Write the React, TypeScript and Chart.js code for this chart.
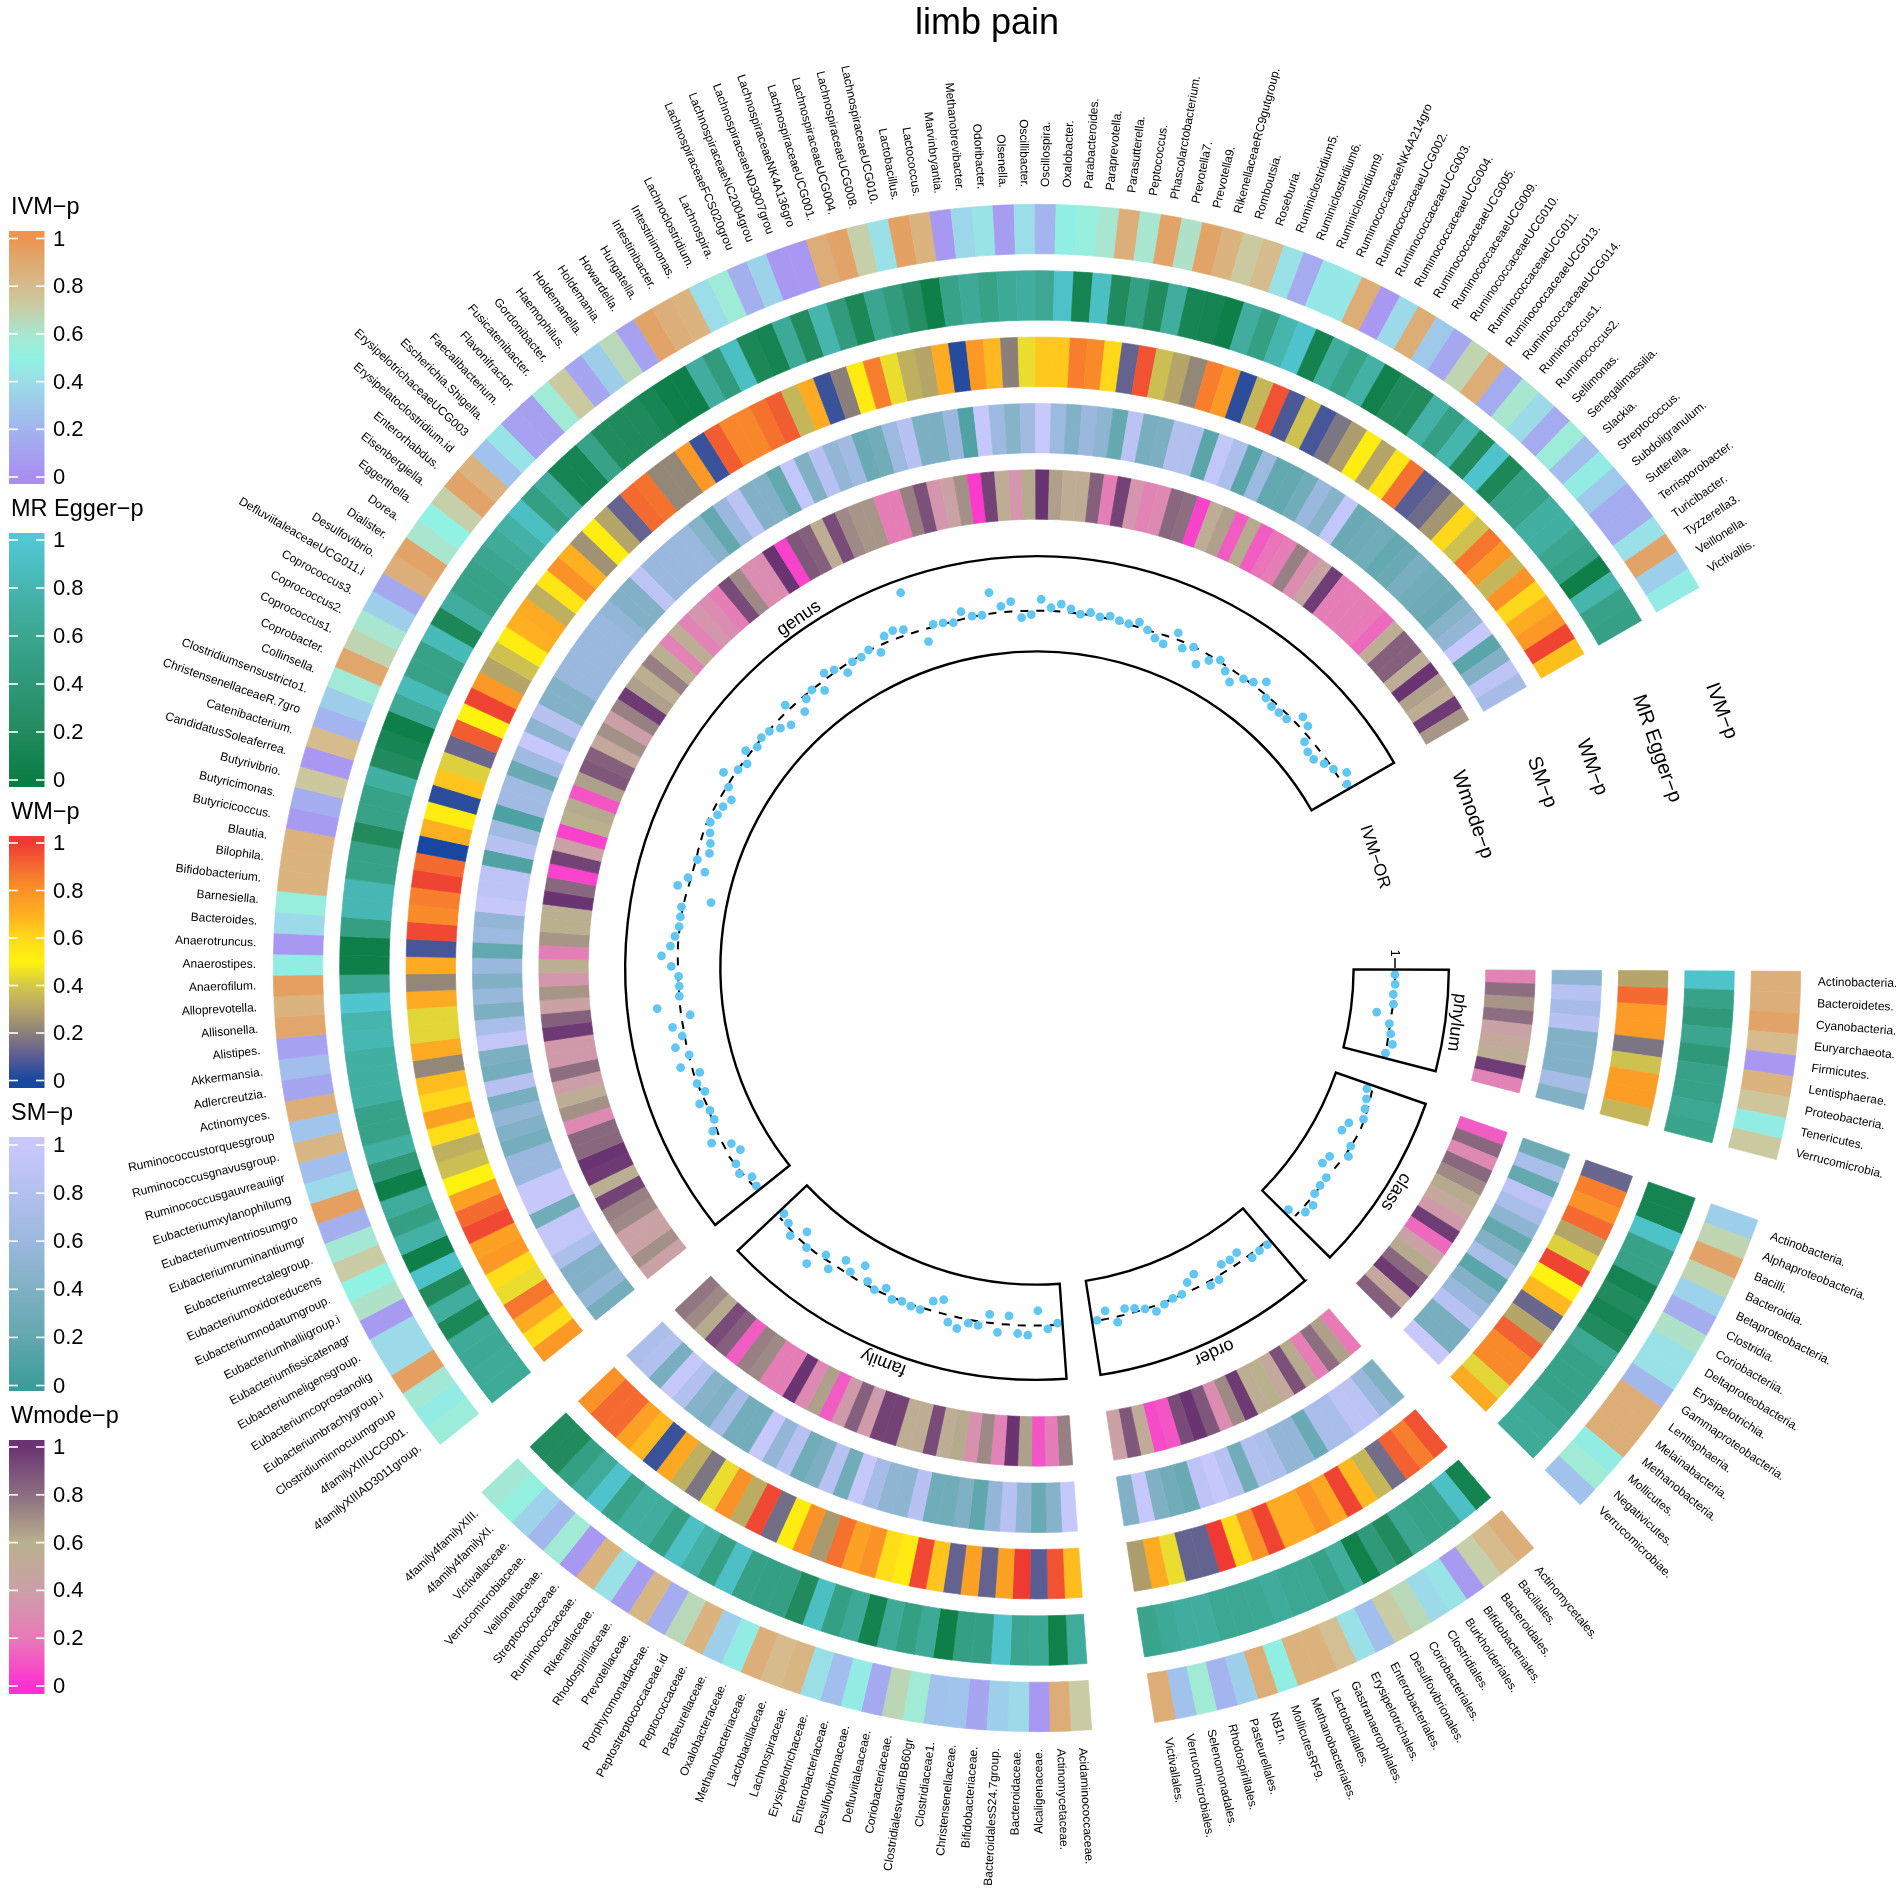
import { useEffect, useRef } from 'react';
import { Chart, registerables } from 'chart.js';

Chart.register(...registerables);

const FONT = '"Liberation Sans", Arial, sans-serif';

const phylumLabels = ['Actinobacteria.', 'Bacteroidetes.', 'Cyanobacteria.', 'Euryarchaeota.', 'Firmicutes.', 'Lentisphaerae.', 'Proteobacteria.', 'Tenericutes.', 'Verrucomicrobia.'];
const classLabels = ['Actinobacteria.', 'Alphaproteobacteria.', 'Bacilli.', 'Bacteroidia.', 'Betaproteobacteria.', 'Clostridia.', 'Coriobacteriia.', 'Deltaproteobacteria.', 'Erysipelotrichia.', 'Gammaproteobacteria.', 'Lentisphaeria.', 'Melainabacteria.', 'Methanobacteria.', 'Mollicutes.', 'Negativicutes.', 'Verrucomicrobiae.'];
const orderLabels = ['Actinomycetales.', 'Bacillales.', 'Bacteroidales.', 'Bifidobacteriales.', 'Burkholderiales.', 'Clostridiales.', 'Coriobacteriales.', 'Desulfovibrionales.', 'Enterobacteriales.', 'Erysipelotrichales.', 'Gastranaerophilales.', 'Lactobacillales.', 'Methanobacteriales.', 'MollicutesRF9.', 'NB1n.', 'Pasteurellales.', 'Rhodospirillales.', 'Selenomonadales.', 'Verrucomicrobiales.', 'Victivallales.'];
const familyLabels = ['Acidaminococcaceae.', 'Actinomycetaceae.', 'Alcaligenaceae.', 'Bacteroidaceae.', 'BacteroidalesS24.7group.', 'Bifidobacteriaceae.', 'Christensenellaceae.', 'Clostridiaceae1.', 'ClostridialesvadinBB60gr', 'Coriobacteriaceae.', 'Defluviitaleaceae.', 'Desulfovibrionaceae.', 'Enterobacteriaceae.', 'Erysipelotrichaceae.', 'Lachnospiraceae.', 'Lactobacillaceae.', 'Methanobacteriaceae.', 'Oxalobacteraceae.', 'Pasteurellaceae.', 'Peptococcaceae.', 'Peptostreptococcaceae.id', 'Porphyromonadaceae.', 'Prevotellaceae.', 'Rhodospirillaceae.', 'Rikenellaceae.', 'Ruminococcaceae.', 'Streptococcaceae.', 'Veillonellaceae.', 'Verrucomicrobiaceae.', 'Victivallaceae.', '4family4familyXI.', '4family4familyXIII.'];
const genusLabels = ['4familyXIIIAD3011group.', '4familyXIIIUCG001.', 'Clostridiuminnocuumgroup', 'Eubacteriumbrachygroup.i', 'Eubacteriumcoprostanolig', 'Eubacteriumeligensgroup.', 'Eubacteriumfissicatenagr', 'Eubacteriumhalliigroup.i', 'Eubacteriumnodatumgroup.', 'Eubacteriumoxidoreducens', 'Eubacteriumrectalegroup.', 'Eubacteriumruminantiumgr', 'Eubacteriumventriosumgro', 'Eubacteriumxylanophilumg', 'Ruminococcusgauvreauiigr', 'Ruminococcusgnavusgroup.', 'Ruminococcustorquesgroup', 'Actinomyces.', 'Adlercreutzia.', 'Akkermansia.', 'Alistipes.', 'Allisonella.', 'Alloprevotella.', 'Anaerofilum.', 'Anaerostipes.', 'Anaerotruncus.', 'Bacteroides.', 'Barnesiella.', 'Bifidobacterium.', 'Bilophila.', 'Blautia.', 'Butyricicoccus.', 'Butyricimonas.', 'Butyrivibrio.', 'CandidatusSoleaferrea.', 'Catenibacterium.', 'ChristensenellaceaeR.7gro', 'Clostridiumsensustricto1.', 'Collinsella.', 'Coprobacter.', 'Coprococcus1.', 'Coprococcus2.', 'Coprococcus3.', 'DefluviitaleaceaeUCG011.i', 'Desulfovibrio.', 'Dialister.', 'Dorea.', 'Eggerthella.', 'Eisenbergiella.', 'Enterorhabdus.', 'Erysipelatoclostridium.id', 'ErysipelotrichaceaeUCG003', 'Escherichia.Shigella.', 'Faecalibacterium.', 'Flavonifractor.', 'Fusicatenibacter.', 'Gordonibacter.', 'Haemophilus.', 'Holdemanella.', 'Holdemania.', 'Howardella.', 'Hungatella.', 'Intestinibacter.', 'Intestinimonas.', 'Lachnoclostridium.', 'Lachnospira.', 'LachnospiraceaeFCS020grou', 'LachnospiraceaeNC2004grou', 'LachnospiraceaeND3007grou', 'LachnospiraceaeNK4A136gro', 'LachnospiraceaeUCG001.', 'LachnospiraceaeUCG004.', 'LachnospiraceaeUCG008.', 'LachnospiraceaeUCG010.', 'Lactobacillus.', 'Lactococcus.', 'Marvinbryantia.', 'Methanobrevibacter.', 'Odoribacter.', 'Olsenella.', 'Oscillibacter.', 'Oscillospira.', 'Oxalobacter.', 'Parabacteroides.', 'Paraprevotella.', 'Parasutterella.', 'Peptococcus.', 'Phascolarctobacterium.', 'Prevotella7.', 'Prevotella9.', 'RikenellaceaeRC9gutgroup.', 'Romboutsia.', 'Roseburia.', 'Ruminiclostridium5.', 'Ruminiclostridium6.', 'Ruminiclostridium9.', 'RuminococcaceaeNK4A214gro', 'RuminococcaceaeUCG002.', 'RuminococcaceaeUCG003.', 'RuminococcaceaeUCG004.', 'RuminococcaceaeUCG005.', 'RuminococcaceaeUCG009.', 'RuminococcaceaeUCG010.', 'RuminococcaceaeUCG011.', 'RuminococcaceaeUCG013.', 'RuminococcaceaeUCG014.', 'Ruminococcus1.', 'Ruminococcus2.', 'Sellimonas.', 'Senegalimassilia.', 'Slackia.', 'Streptococcus.', 'Subdoligranulum.', 'Sutterella.', 'Terrisporobacter.', 'Turicibacter.', 'Tyzzerella3.', 'Veillonella.', 'Victivallis.'];

// p values, clockwise inside each section
const ivmPhylum = [.87, .87, .93, .8, .05, .85, .75, .47, .73];
const ivmClass = [.33, .68, .93, .68, .35, .17, .62, .42, .42, .22, .88, .88, .88, .47, .57, .27];
const ivmOrder = [.87, .8, .7, .07, .43, .38, .66, .72, .25, .42, .78, .86, .86, .48, .88, .33, .2, .57, .27, .88];
const ivmFamily = [.72, .88, .05, .38, .33, .12, .28, .27, .57, .67, .14, .47, .25, .41, .83, .8, .87, .47, .33, .85, .66, .17, .83, .08, .42, .85, .05, .57, .22, .35, .52, .58];
const ivmGenus = [
  .55, .47, .58, .95, .38, .38, .07, .62, .5, .72,
  .58, .18, .95, .38, .25, .83, .28, .87, .12, .25,
  .1, .92, .85, .95, .47, .05, .38, .53, .85, .85,
  .86, .07, .17, .74, .05, .8, .2, .32, .57, .92,
  .68, .6, .33, .13, .87, .93, .6, .5, .7, .93,
  .85, .27, .43, .1, .09, .57, .73, .12, .32, .66,
  .1, .93, .87, .85, .4, .56, .18, .35, .05, .05,
  .88, .93, .7, .42, .94, .85, .05, .37, .43, .08,
  .4, .2, .48, .53, .6, .87, .6, .93, .62, .93,
  .85, .73, .8, .42, .15, .45, .45, .88, .05, .38,
  .88, .3, .13, .68, .88, .15, .6, .38, .15, .55,
  .25, .47, .3, .16, .16, .42, .93, .33, .47,
];

const mrPhylum = [.95, .55, .42, .6, .4, .55, .55, .62, .58];
const mrClass = [.1, .1, .93, .55, .55, .1, .2, .1, .2, .62, .55, .55, .55, .6, .66, .66];
const mrOrder = [.08, .92, .55, .55, .6, .2, .42, .05, .7, .55, .62, .62, .68, .62, .62, .62, .7, .7, .65, .58];
const mrFamily = [.68, .05, .62, .6, .95, .5, .5, .03, .65, .5, .65, .08, .65, .5, .9, .2, .5, .5, .52, .92, .5, .75, .92, .5, .7, .7, .55, .95, .68, .5, .2, .2];
const mrGenus = [
  .66, .66, .64, .66, .15, .7, .2, .93, .03, .75,
  .5, .68, .03, .4, .72, .55, .55, .72, .72, .72,
  .82, .8, .97, .6, .03, .03, .5, .82, .82, .55,
  .55, .2, .55, .55, .72, .2, .12, .03, .65, .85,
  .55, .55, .85, .15, .7, .55, .55, .6, .66, .75,
  .9, .5, .68, .1, .1, .55, .2, .18, .18, .12,
  .03, .03, .7, .45, .9, .15, .1, .65, .2, .8,
  .45, .15, .6, .45, .25, .03, .55, .65, .55, .65,
  .7, .62, .93, .1, .9, .2, .5, .2, .7, .12,
  .1, .03, .7, .5, .8, .95, .08, .7, .55, .75,
  .05, .2, .2, .75, .5, .8, .2, .95, .15, .55,
  .55, .72, .72, .6, .55, .03, .8, .55, .52,
];

const wmPhylum = [.3, .9, .77, .77, .17, .38, .76, .76, .35];
const wmClass = [.13, .85, .8, .9, .3, .42, .98, .5, .68, .13, .3, .92, .82, .82, .43, .72];
const wmOrder = [.95, .85, .92, .15, .35, .68, .98, .73, .8, .72, .72, .98, .8, .6, 1, .12, .12, .45, .72, .28];
const wmFamily = [.67, .95, .1, 1, .75, .12, .75, .12, .65, .97, .53, .58, .8, .75, .88, .27, .8, .52, .15, .97, .32, .8, .45, .17, .33, .73, .05, .68, .75, .9, .9, .8];
const wmGenus = [
  .78, .58, .72, .87, .45, .58, .78, .75, .97, .9,
  .75, .5, .37, .33, .58, .75, .6, .67, .22, .72,
  .43, .43, .72, .22, .72, .07, .97, .82, .85, .98,
  .9, 0, .7, .52, .03, .65, .42, .13, .93, .5,
  .98, .78, .3, .38, .52, .7, .72, .33, .55, .8,
  .7, .25, .52, .3, .12, .9, .88, .22, .22, .78,
  .05, .93, .83, .83, .88, .93, .35, .72, .05, .2,
  .53, .85, .45, .33, .3, .72, .02, .78, .68, .2,
  .45, .64, .64, .85, .82, .6, .12, .95, .37, .3,
  .22, .85, .78, .03, .35, .95, .08, .38, .07, .17,
  .28, .52, .3, .55, .88, .1, .14, .26, .6, .38,
  .87, .78, .35, .8, .6, .72, .78, .98, .66,
];

const smPhylum = [.5, .85, .7, .85, .42, .42, .42, .7, .42];
const smClass = [.28, .72, .22, .9, .72, .5, .2, .42, .72, .15, .42, .6, .85, .35, .35, 1];
const smOrder = [.4, .6, .88, .9, .72, .72, .25, .55, .55, .75, .8, .3, .85, .98, .9, .25, .3, .4, .98, .42];
const smFamily = [.98, .45, .25, .5, .85, .55, .18, .4, .3, .3, .85, .5, .52, .7, .98, .3, .85, .38, .3, .85, .55, .98, .32, .32, .7, .4, .45, .8, .98, .35, .8, .75];
const smGenus = [
  .33, .55, .42, .42, .75, .95, .95, .3, .98, .98,
  .6, .6, .33, .42, .55, .35, .85, .33, .38, .95,
  .72, .38, .58, .4, .6, .2, .62, .55, .98, .9,
  .9, .1, .85, .65, .08, .65, .65, .25, .65, .98,
  .5, .85, .42, .42, .6, .6, .6, .6, .6, .55,
  .42, .42, .9, .6, .6, .6, .6, .45, .2, .6,
  .88, .42, .42, .2, .95, .4, .85, .55, .65, .25,
  .3, .62, .85, .38, .38, .6, .1, .98, .62, .45,
  .65, 1, .62, .42, .6, .5, .22, .88, .35, .38,
  .8, .78, .15, .95, .75, .15, .62, .2, .22, .3,
  .6, .45, .95, .25, .28, .3, .22, .25, .35, .3,
  .28, .25, .45, .55, .98, .15, .42, .9, .7,
];

const wmodePhylum = [.25, .8, .68, .8, .42, .5, .55, .97, .25];
const wmodeClass = [.12, .82, .28, .82, .72, .62, .5, .37, .97, .15, .42, .62, .82, .98, .5, .85];
const wmodeOrder = [.2, .65, .8, .22, .62, .9, .5, .6, .55, .98, .72, .3, .88, 1, .92, .1, .07, .52, .88, .42];
const wmodeFamily = [.75, .22, .1, .65, 1, .25, .72, .32, .62, .55, .92, .55, .55, .95, .95, .38, .85, .37, .12, .65, .28, 1, .22, .22, .72, .75, .12, .85, .92, .62, .72, .78];
const wmodeGenus = [
  .42, .7, .42, .42, .72, .75, .95, .58, .98, 1,
  .82, .82, .28, .7, .55, .4, .8, .37, .37, .98,
  .85, .42, .68, .35, .58, .22, .68, .6, .58, 1,
  .82, .05, .95, .42, .05, .6, .62, .1, .65, .88,
  .85, .5, .7, .4, .75, .98, .65, .58, .75, .58,
  .25, .55, .25, .35, .3, .22, .92, .72, .3, .3,
  1, .05, .88, .85, .55, .92, .72, .68, .68, .22,
  .22, .75, .9, .35, .42, .7, .03, .95, .55, .35,
  .62, 1, .65, .55, .55, .85, .22, .95, .35, .25,
  .28, .82, .8, .05, .55, .65, .12, .62, .12, .18,
  .22, .75, .3, .45, .97, .22, .22, .22, .2, .15,
  .55, .85, .85, .55, 1, .65, .55, .98, .68,
];

// IVM odds ratios
const orPhylum = [1.0, 1.002, .997, 1.001, .938, .995, 1.007, 1.022, 1.003];
const orClass = [.973, .986, .996, 1.007, .961, .949, 1.011, 1.024, .96, .951, .997, .996, .999, 1.024, 1.019, .963];
const orOrder = [1.008, 1.007, 1.011, .959, .967, .964, 1.012, 1.015, .944, .962, .996, .997, 1.006, 1.022, .998, .984, .975, 1.021, .966, .998];
const orFamily = [.991, 1.012, .939, 1.037, 1.032, .964, 1.034, .966, 1.017, 1.015, 1.045, 1.029, .946, .964, 1.012, 1.012, 1.007, 1.015, .984, 1.01, .993, .943, .995, .965, 1.033, .993, 1.067, 1.017, .968, 1.024, .993, .979];
const orGenus = [
  .989, .981, 1.015, 1.005, .959, .978, 1.046, 1.02, .994, .995,
  1.023, .985, 1.004, .98, 1.048, 1.002, 1.049, 1.013, 1.045, .968,
  1.096, 1.003, 1.001, 1.002, 1.031, 1.071, 1.037, 1.022, 1.009, 1.009,
  1.011, .898, 1.043, 1.01, .951, .994, .956, .966, .983, .999,
  .985, .98, .963, .998, 1.046, 1.003, .986, 1.022, .994, 1.005,
  .997, .973, .951, 1.024, .952, .986, .999, .966, 1.023, 1.011,
  .971, .998, .996, 1.008, .976, 1.03, 1.036, 1.023, 1.165, .944,
  1.004, .999, .989, 1.025, .999, .996, 1.082, 1.022, 1.037, .971,
  .982, 1.043, 1.01, 1.027, 1.011, .994, 1.006, .995, 1.006, .996,
  .993, 1.011, .991, .969, .959, 1.023, .973, .996, .94, .977,
  1.001, .974, .947, .989, 1.002, 1.035, .984, .973, .975, .979,
  1.031, 1.021, .969, .954, .954, .978, .996, 1.033, 1.01,
];

// dashed trend
const trendPhylum = [1.0, 1.001, 1.001, 1.0, .998, .998, .999, 1.001, 1.004];
const trendClass = [.995, 1.001, 1.006, 1.011, 1.014, 1.014, 1.012, 1.011, 1.007, 1.002, .998, .998, 1.0, 1.0, 1.0, 1.0];
const trendOrder = [.996, .996, .996, .997, .997, .997, .998, .998, .998, .998, .998, .999, .999, .999, .999, .999, .999, .999, .999, .999];
const trendFamily = [.998, .998, .998, .999, .999, .999, 1.0, 1.0, 1.001, 1.001, 1.001, 1.001, 1.001, 1.002, 1.003, 1.005, 1.006, 1.007, 1.008, 1.008, 1.008, 1.008, 1.007, 1.006, 1.007, 1.009, 1.011, 1.011, 1.01, 1.008, 1.004, 1.001];
const trendGenus = [
  .998, 1.002, 1.005, 1.009, 1.012, 1.008, 1.008, 1.003, 1.003, .998,
  .998, 1.002, 1.001, 1.005, 1.004, 1.004, 1.004, 1.003, 1.003, 1.004,
  1.004, 1.003, 1.003, 1.004, 1.004, 1.006, 1.007, 1.007, 1.006, 1.006,
  1.005, 1.003, 1.0, .998, .998, .999, 1.003, 1.006, 1.01, 1.011,
  1.009, 1.008, 1.006, 1.005, 1.005, 1.003, 1.003, 1.002, 1.002, 1.002,
  1.001, 1.001, 1.001, 1.001, 1.0, 1.0, 1.0, .999, 1.0, 1.001,
  1.002, 1.002, 1.003, 1.004, 1.004, 1.003, 1.001, .999, .997, .996,
  .994, .994, .994, .995, .996, .997, .998, .998, .998, .997,
  .997, .997, .997, .997, .996, .996, .995, .994, .993, .992,
  .991, .99, .99, .991, .994, .996, .998, .998, .998, .996,
  .994, .994, .993, .992, .992, .993, .993, .993, .993, .994,
  .994, .994, .994, .994, .994, .995, .995, .995, .996,
];

const legendTicks = [1, 0.8, 0.6, 0.4, 0.2, 0];
const sectionNames = ['phylum', 'class', 'order', 'family', 'genus'];

type Stops = [number, string][];
const ivmStops: Stops = [[0, '#A98EF2'], [.2, '#A3B4EE'], [.4, '#9BDDE8'], [.5, '#8FF2E2'], [.6, '#A8E6D0'], [.7, '#C5CFA9'], [.8, '#D6BB8C'], [.9, '#DEAA72'], [1, '#EC9450']];
const mrStops: Stops = [[0, '#0A7D45'], [.2, '#228B5E'], [.4, '#2F9878'], [.6, '#3BA58F'], [.8, '#45B5AE'], [1, '#52C8D6']];
const wmStops: Stops = [[0, '#1747A0'], [.1, '#5A5C94'], [.2, '#8B7F7B'], [.3, '#B5A568'], [.4, '#D5C84A'], [.5, '#FFF20F'], [.6, '#FFD81A'], [.7, '#FFB020'], [.8, '#FA9228'], [.9, '#F46A30'], [1, '#EE3A33']];
const smStops: Stops = [[0, '#3D9C9A'], [.2, '#62A8AE'], [.4, '#7FB0C4'], [.6, '#9AB8DD'], [.8, '#B2C0EE'], [1, '#C8C8FC']];
const wmodeStops: Stops = [[0, '#FF30D0'], [.2, '#E87AB8'], [.4, '#CC9FA8'], [.6, '#B9B18E'], [.8, '#8C6E80'], [1, '#6A3473']];

const SMALL_GAP = 3;
const BIG_GAP = 19;
const ROTATION = 90.25;

function withGaps<T>(fill: T, a: T[], b: T[], c: T[], d: T[], e: T[]): T[] {
  const small = Array(SMALL_GAP).fill(fill);
  return [...a, ...small, ...b, ...small, ...c, ...small, ...d, ...small, ...e, ...Array(BIG_GAP).fill(fill)];
}

function hexRgb(hex: string) {
  return [1, 3, 5].map(i => parseInt(hex.slice(i, i + 2), 16));
}

function colorOf(stops: Stops, v: number | null) {
  if (v === null) return 'rgba(0,0,0,0)';
  let i = 1;
  while (i < stops.length - 1 && v > stops[i][0]) i++;
  const [v0, c0] = stops[i - 1];
  const [v1, c1] = stops[i];
  const t = (v - v0) / (v1 - v0);
  const a = hexRgb(c0);
  const b = hexRgb(c1);
  return `rgb(${a.map((x, k) => Math.round(x + (b[k] - x) * t)).join(',')})`;
}

const allLabels = withGaps<string>('', phylumLabels, classLabels, orderLabels, familyLabels, genusLabels);

function ring(stops: Stops, a: number[], b: number[], c: number[], d: number[], e: number[], weight: number) {
  const values = withGaps<number | null>(null, a, b, c, d, e);
  const colors = values.map(v => colorOf(stops, v));
  return {
    data: values.map(() => 1),
    backgroundColor: colors,
    borderColor: colors,
    borderWidth: values.map(v => (v === null ? 0 : 0.7)),
    weight,
  };
}

const spacer = (weight: number) => ({ data: [], weight });

const legends = [
  { title: 'IVM−p', stops: ivmStops, titleY: 208, top: 231, bottom: 484, y1: 238.5, y0: 477 },
  { title: 'MR Egger−p', stops: mrStops, titleY: 510, top: 533, bottom: 787, y1: 540, y0: 780 },
  { title: 'WM−p', stops: wmStops, titleY: 813, top: 836, bottom: 1088, y1: 843, y0: 1080.5 },
  { title: 'SM−p', stops: smStops, titleY: 1114, top: 1137, bottom: 1391, y1: 1145, y0: 1385.5 },
  { title: 'Wmode−p', stops: wmodeStops, titleY: 1417, top: 1440, bottom: 1694, y1: 1447, y0: 1686 },
];

// name, radius, angle in degrees, font size
const ringTitles: [string, number, number, number][] = [
  ['IVM−p', 731, -20.6, 20],
  ['MR Egger−p', 657.5, -19.5, 20],
  ['WM−p', 590, -19.9, 20],
  ['SM−p', 538, -20.2, 20],
  ['Wmode−p', 461.7, -19.4, 20],
  ['IVM−OR', 355.7, -18.2, 17],
];

const textPlugin = {
  id: 'circosText',
  afterDraw(chart: any) {
    const { ctx } = chart;
    const scale = chart.scales.r;
    const cx = scale.xCenter;
    const cy = scale.yCenter;
    ctx.save();
    ctx.fillStyle = '#000';

    // taxon names around the outside
    ctx.font = `12px ${FONT}`;
    ctx.textBaseline = 'middle';
    allLabels.forEach((label, i) => {
      if (!label) return;
      const p = scale.getPointPosition(i, 781);
      const left = Math.cos(p.angle + 0.012) < 0;
      ctx.save();
      ctx.translate(p.x, p.y);
      ctx.rotate(left ? p.angle + Math.PI : p.angle);
      ctx.textAlign = left ? 'right' : 'left';
      ctx.fillText(label, 0, 0);
      ctx.restore();
    });

    // section names just outside the track, centred on their sector
    const meta = chart.getDatasetMeta(trackIndex);
    ctx.font = `18px ${FONT}`;
    ctx.textAlign = 'center';
    sectionNames.forEach((name, i) => {
      const arc = meta.data[i * 2];
      const { startAngle, endAngle } = arc.getProps(['startAngle', 'endAngle'], true);
      const a = (startAngle + endAngle) / 2;
      ctx.save();
      ctx.translate(cx + Math.cos(a) * 423, cy + Math.sin(a) * 423);
      ctx.rotate(a + Math.PI / 2);
      ctx.fillText(name, 0, 0);
      ctx.restore();
    });

    // ring names in the big gap
    ringTitles.forEach(([name, r, deg, size]) => {
      const a = (deg * Math.PI) / 180;
      ctx.font = `${size}px ${FONT}`;
      ctx.save();
      ctx.translate(cx + Math.cos(a) * r, cy + Math.sin(a) * r);
      ctx.rotate(a + Math.PI / 2);
      ctx.fillText(name, 0, 0);
      ctx.restore();
    });

    // axis tick of the track
    const tickX = cx + scale.getDistanceFromCenterForValue(1);
    ctx.strokeStyle = '#000';
    ctx.lineWidth = 1.5;
    ctx.beginPath();
    ctx.moveTo(tickX, cy);
    ctx.lineTo(tickX, cy - 10);
    ctx.stroke();
    ctx.save();
    ctx.translate(tickX, cy - 15);
    ctx.rotate(Math.PI / 2);
    ctx.font = `13px ${FONT}`;
    ctx.fillText('1', 0, 0);
    ctx.restore();

    // title
    ctx.font = `36px ${FONT}`;
    ctx.fillText('limb pain', 987, 24);

    // colour bars
    legends.forEach(lg => {
      ctx.textAlign = 'left';
      ctx.fillStyle = '#000';
      ctx.font = `23.5px ${FONT}`;
      ctx.fillText(lg.title, 11, lg.titleY);
      const grad = ctx.createLinearGradient(0, lg.y0, 0, lg.y1);
      lg.stops.forEach(([v, c]) => grad.addColorStop(v, c));
      ctx.fillStyle = grad;
      ctx.fillRect(9, lg.top, 35.5, lg.bottom - lg.top);
      ctx.font = `22px ${FONT}`;
      legendTicks.forEach(t => {
        const y = lg.y0 + (lg.y1 - lg.y0) * t;
        ctx.fillStyle = '#fff';
        ctx.fillRect(9, y - 0.8, 9, 1.6);
        ctx.fillRect(36, y - 0.8, 8.5, 1.6);
        ctx.fillStyle = '#000';
        ctx.fillText(String(t), 53, y + 1);
      });
    });
    ctx.restore();
  },
};

const rings = [
  ring(ivmStops, ivmPhylum, ivmClass, ivmOrder, ivmFamily, ivmGenus, 49.5),
  spacer(17),
  ring(mrStops, mrPhylum, mrClass, mrOrder, mrFamily, mrGenus, 49.5),
  spacer(17),
  ring(wmStops, wmPhylum, wmClass, wmOrder, wmFamily, wmGenus, 49.5),
  spacer(17),
  ring(smStops, smPhylum, smClass, smOrder, smFamily, smGenus, 49.5),
  spacer(17),
  ring(wmodeStops, wmodePhylum, wmodeClass, wmodeOrder, wmodeFamily, wmodeGenus, 49.5),
  spacer(37),
];

const trackIndex = rings.length;

const sectorSizes = [phylumLabels.length, SMALL_GAP, classLabels.length, SMALL_GAP, orderLabels.length, SMALL_GAP, familyLabels.length, SMALL_GAP, genusLabels.length, BIG_GAP];

export default function App() {
  const chartRef = useRef<HTMLCanvasElement>(null);
  const chartInstance = useRef<Chart | null>(null);

  useEffect(() => {
    if (!chartRef.current) return;

    chartInstance.current = new Chart(chartRef.current, {
      type: 'doughnut',
      plugins: [textPlugin],
      data: {
        labels: allLabels,
        datasets: [
          ...rings,
          {
            // black outlines of the track sectors
            data: sectorSizes,
            backgroundColor: 'rgba(0,0,0,0)',
            borderColor: '#000',
            borderWidth: sectorSizes.map((_, i) => (i % 2 === 0 ? 2.4 : 0)),
            borderJoinStyle: 'miter',
            weight: 95.4,
          },
          {
            type: 'radar',
            data: withGaps<number | null>(null, orPhylum, orClass, orOrder, orFamily, orGenus),
            showLine: false,
            fill: false,
            pointRadius: 4.4,
            pointBackgroundColor: '#62C6F2',
            pointBorderWidth: 0,
            spanGaps: false,
            weight: 0,
          },
          {
            type: 'radar',
            data: withGaps<number | null>(null, trendPhylum, trendClass, trendOrder, trendFamily, trendGenus),
            fill: false,
            pointRadius: 0,
            borderColor: '#000',
            borderWidth: 2,
            borderDash: [8, 8],
            spanGaps: false,
            weight: 0,
          },
        ] as any,
      },
      options: {
        responsive: false,
        animation: false,
        events: [],
        rotation: ROTATION,
        cutout: 316.6,
        layout: { padding: { left: 273, right: 101, top: 204, bottom: 159 } },
        plugins: { legend: { display: false }, tooltip: { enabled: false }, title: { display: false } },
        scales: {
          r: {
            type: 'radialLinear',
            // half a cell on, so points sit on the middle of their cells
            startAngle: ROTATION + 180 / allLabels.length,
            min: -0.432,
            max: 2.624,
            ticks: { display: false },
            grid: { display: false },
            angleLines: { display: false },
            pointLabels: { display: false },
          },
        },
      } as any,
    });

    return () => {
      if (chartInstance.current) {
        chartInstance.current.destroy();
      }
    };
  }, []);

  return (
    <div style={{ position: 'absolute', left: 0, top: 0, width: 1902, height: 1891 }}>
      <canvas ref={chartRef} width={1902} height={1891}></canvas>
    </div>
  );
}
